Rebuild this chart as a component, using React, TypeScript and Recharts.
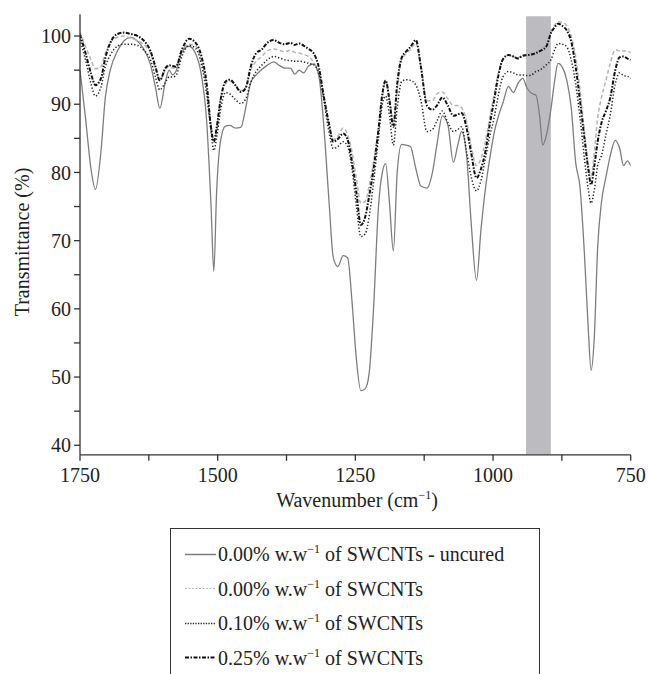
import React from "react";
import { LineChart, Line, XAxis, YAxis, ReferenceArea } from "recharts";

// FTIR spectra, wavenumber (cm-1) vs transmittance (%)
const wavenumbers = [
  1750, 1740, 1730, 1722, 1712, 1704, 1695, 1682, 1670, 1658,
  1645, 1635, 1622, 1613, 1605, 1595, 1588, 1582, 1576, 1565,
  1552, 1540, 1530, 1520, 1512, 1507, 1502, 1495, 1486, 1478,
  1468, 1458, 1449, 1440, 1430, 1420, 1410, 1398, 1388, 1378,
  1368, 1360, 1352, 1344, 1335, 1326, 1316, 1307, 1298, 1290,
  1282, 1272, 1264, 1256, 1248, 1240, 1232, 1225, 1217, 1208,
  1201, 1195, 1188, 1181, 1174, 1166, 1158, 1150, 1140, 1131,
  1120, 1110, 1102, 1092, 1082, 1072, 1064, 1057, 1048, 1040,
  1030, 1022, 1014, 1006, 998, 990, 982, 972, 963, 955,
  946, 938, 930, 922, 915, 910, 903, 895, 888, 882,
  874, 866, 858, 850, 842, 834, 827, 822, 816, 810,
  803, 795, 787, 778, 770, 763, 756, 750,
];

const uncured = [
  95, 88, 80.5, 77.5, 83, 91, 95, 97.8, 99.3, 99.8,
  99.2, 98.2, 95.8, 92.5, 89.4, 93.3, 95, 94.3, 94.8, 97.6,
  98.5, 97.4, 94.5, 87.5, 75, 65.5, 77, 84.5, 86.8, 86.9,
  86.5, 86.6, 89.5, 93.2, 94.3, 95.1, 95.7, 96.2, 95.7, 95.3,
  95.3, 94.4, 95, 94.6, 95.6, 95.9, 94, 86.5, 76, 67.5,
  66.2, 67.8, 67.5, 61, 52.5, 48, 48.3, 50.5, 60, 75,
  80, 81.3, 75.5, 68.5, 80, 84.1, 84, 83.8, 80.5, 78,
  77.7, 80, 84, 88.3, 87, 81.5, 84, 86, 82.5, 73,
  64.2, 71.5, 77.5, 82, 85.8, 88.3, 90.2, 92.6, 91.7, 93,
  93.8, 92.3, 91.6, 91.3, 88, 84, 85.5, 89.2, 93.5, 96,
  95.4, 93.5, 89.5, 81.5, 77.8, 68, 57, 51, 56, 69,
  75.7, 79.3, 82.5, 84.7, 83.5, 81, 81.7, 81,
];

const swcnt000 = [
  100.6, 98.5, 96.5, 95.2, 95.5, 97.5, 99, 99.8, 100, 99.7,
  99.3, 98.8, 97.5, 95.2, 93.5, 95, 95.6, 95.3, 95.5, 97.8,
  98.8, 98.5, 96.5, 92.5, 87, 84.5, 86, 90.5, 93, 93.4,
  92.8, 92, 92.5, 95, 96.3, 97, 97.8, 98.1, 97.9, 97.7,
  97.9, 97.6, 97.5, 97.3, 97, 96.2, 94.5, 91, 87, 84.8,
  85.3, 86.5, 85.5, 83, 79, 75.5, 75.8, 78, 81.5, 86.5,
  91, 93.3, 91, 87.2, 92, 96.5, 97.4, 98, 99, 95.5,
  90.5, 90.5, 91.5, 91.8, 90.8, 89.8, 89.8, 89.5, 87.5, 84,
  81, 82, 84.5, 88, 91.5, 94.7, 96.5, 97.2, 97, 96.8,
  97.2, 97.3, 97.4, 97.6, 98, 98.3, 98.8, 100.6, 101.6, 102.1,
  102, 101.5, 100, 97, 92, 86, 81, 79.5, 83, 88,
  91, 93.5, 96, 98, 97.8, 97.8, 97.8, 97.5,
];

const swcnt010 = [
  99.5, 96.5, 93, 91.2, 92.5, 95.5, 97.2, 98.5, 98.8, 98.8,
  98.6, 98, 96.5, 94, 92.1, 93.2, 94, 94, 94.2, 97,
  98.6, 98.2, 96, 91.5, 86, 83.2, 85, 89, 91.7, 91.5,
  90.7, 90.1, 90.8, 93.2, 94.8, 95.7, 96.5, 97, 96.8, 96.5,
  96.4, 96.3, 96.3, 96.2, 96, 95.8, 94.5, 90.5, 86, 83.5,
  83.8, 84.5, 83.8, 80.5, 75, 70.6, 71, 73.5, 78.5, 85,
  90, 91.2, 88.3, 84, 89.5, 93.3, 93.6, 93.5, 92.8, 90.6,
  86, 86.3, 87.5, 89, 87.3, 86, 86.3, 86.7, 83, 79.5,
  77.3, 78.8, 82, 85.3, 88, 91.5, 94, 94.8, 94.6, 94.3,
  94.3, 94.2, 94.3, 94.8, 95, 95.3, 95.8, 96.5, 98, 98.9,
  98.8, 98.4, 96.5, 93, 88, 82, 77.5, 75.5, 77.5, 81,
  82.5, 85.5, 88.5, 93, 94.6, 94.2, 94.1, 93.8,
];

const swcnt025 = [
  100.2, 97.5, 94.5, 92.8, 93.8, 96.8, 99, 100.3, 100.5, 100.3,
  100, 99.4, 97.8, 95.5, 93.5, 95.3, 95.7, 95.6, 95.5, 98,
  99.6, 99, 97.2, 93, 86.5, 84.5, 86.5, 90.5, 93.3, 93.6,
  92.8, 91.8, 92.4, 95.5, 97.5, 98, 99, 99.4, 99, 98.8,
  99, 98.7, 98.9, 98.6, 98.1, 97.5, 95.3, 91, 87.2, 84.5,
  84.9, 85.7, 84.8, 81.5, 77, 72.3, 73.5, 76.5, 80.5, 86.3,
  91.5, 93.5, 90.5, 86.7, 93, 96.8, 97.7, 98.4, 99.4, 95.5,
  89.8, 89.2, 89.8, 91, 89.8, 88.3, 88.5, 88.7, 86.5, 83,
  79.2, 80.5, 83, 87, 90.6, 94.3, 96.6, 97.2, 97, 96.7,
  97.1, 97.2, 97.3, 97.5, 97.8, 98, 98.5, 100.4, 101.3, 101.8,
  101.5, 100.8, 99.2, 95.5, 90.5, 85, 80.5, 78.2, 81, 84.5,
  87.3, 89, 91, 95, 96.9, 97, 96.7, 96.5,
];

const xTicks = [1750, 1625, 1500, 1375, 1250, 1125, 1000, 875, 750];
const yTicks = [40, 45, 50, 55, 60, 65, 70, 75, 80, 85, 90, 95, 100];
const bandStart = 940;
const bandEnd = 895;

const data = wavenumbers.map((w, i) => ({
  w,
  uncured: uncured[i],
  s000: swcnt000[i],
  s010: swcnt010[i],
  s025: swcnt025[i],
}));

const FONT = "'Liberation Serif', 'Times New Roman', serif";
const tickStyle = { fontSize: 20, fill: "#222", fontFamily: FONT };

const legendRows = [
  { label: "0.00% w.w", rest: " of SWCNTs - uncured", stroke: "#7d7d7d", dash: undefined, width: 1.3 },
  { label: "0.00% w.w", rest: " of SWCNTs", stroke: "#b5b5b5", dash: "2 1.5", width: 1.2 },
  { label: "0.10% w.w", rest: " of SWCNTs", stroke: "#222", dash: "1.3 1.3", width: 1.6 },
  { label: "0.25% w.w", rest: " of SWCNTs", stroke: "#111", dash: "4 1.5 1.5 1.5", width: 2 },
];

export default function App() {
  return (
    <div
      style={{
        position: "absolute",
        left: 0,
        top: 0,
        width: 648,
        height: 674,
        overflow: "hidden",
        background: "#fff",
        fontFamily: FONT,
      }}
    >
      <LineChart
        width={648}
        height={674}
        data={data}
        margin={{ top: 14.2, right: 17.3, bottom: 179.2, left: 0 }}
      >
        <ReferenceArea
          x1={bandStart}
          x2={bandEnd}
          y1={38.6}
          y2={102.9}
          fill="#bcbcc0"
          fillOpacity={1}
          stroke="none"
          ifOverflow="hidden"
        />
        <XAxis
          dataKey="w"
          type="number"
          domain={[750, 1750]}
          reversed
          ticks={xTicks}
          interval={0}
          allowDataOverflow
          tickFormatter={(v: number) => (v % 250 === 0 ? String(v) : "")}
          tick={tickStyle}
          tickSize={6}
          tickMargin={7}
          height={40}
          stroke="#333"
          strokeWidth={1.3}
        />
        <YAxis
          type="number"
          domain={[38.6, 103.2]}
          ticks={yTicks}
          interval={0}
          allowDataOverflow
          tickFormatter={(v: number) => (v % 10 === 0 ? String(v) : "")}
          tick={tickStyle}
          tickSize={6}
          tickMargin={3}
          width={80}
          stroke="#333"
          strokeWidth={1.3}
        />
        <Line
          type="monotone"
          dataKey="uncured"
          stroke="#7d7d7d"
          strokeWidth={1.3}
          dot={false}
          isAnimationActive={false}
        />
        <Line
          type="monotone"
          dataKey="s000"
          stroke="#b5b5b5"
          strokeWidth={1.5}
          strokeDasharray="4 2.5"
          dot={false}
          isAnimationActive={false}
        />
        <Line
          type="monotone"
          dataKey="s010"
          stroke="#222"
          strokeWidth={1.5}
          strokeDasharray="1.3 2"
          dot={false}
          isAnimationActive={false}
        />
        <Line
          type="monotone"
          dataKey="s025"
          stroke="#111"
          strokeWidth={2}
          strokeDasharray="4 1.5 1.5 1.5"
          dot={false}
          isAnimationActive={false}
        />
      </LineChart>

      {/* axis titles */}
      <div
        style={{
          position: "absolute",
          left: 22,
          top: 242,
          transform: "translate(-50%, -50%) rotate(-90deg)",
          whiteSpace: "nowrap",
          fontSize: 20,
          color: "#222",
        }}
      >
        Transmittance (%)
      </div>
      <div
        style={{
          position: "absolute",
          left: 357,
          top: 500,
          transform: "translate(-50%, -50%)",
          whiteSpace: "nowrap",
          fontSize: 20,
          lineHeight: "22px",
          color: "#222",
        }}
      >
        Wavenumber (cm<sup style={{ fontSize: 12, verticalAlign: "8px", lineHeight: 0 }}>−1</sup>)
      </div>

      {/* legend box */}
      <div
        style={{
          position: "absolute",
          left: 170,
          top: 528,
          width: 368,
          height: 170,
          border: "1.3px solid #333",
          background: "#fff",
        }}
      >
        {legendRows.map((r, i) => (
          <div
            key={i}
            style={{
              position: "absolute",
              left: 14,
              top: 25 + i * 34.5,
              transform: "translateY(-50%)",
              display: "flex",
              alignItems: "center",
              whiteSpace: "nowrap",
              fontSize: 20,
              color: "#222",
            }}
          >
            <svg width={31} height={10} style={{ marginRight: 2 }}>
              <line
                x1={0}
                y1={5}
                x2={31}
                y2={5}
                stroke={r.stroke}
                strokeWidth={r.width}
                strokeDasharray={r.dash}
              />
            </svg>
            <span>
              {r.label}
              <sup style={{ fontSize: 12, verticalAlign: "8px", lineHeight: 0 }}>−1</sup>
              {r.rest}
            </span>
          </div>
        ))}
      </div>
    </div>
  );
}
